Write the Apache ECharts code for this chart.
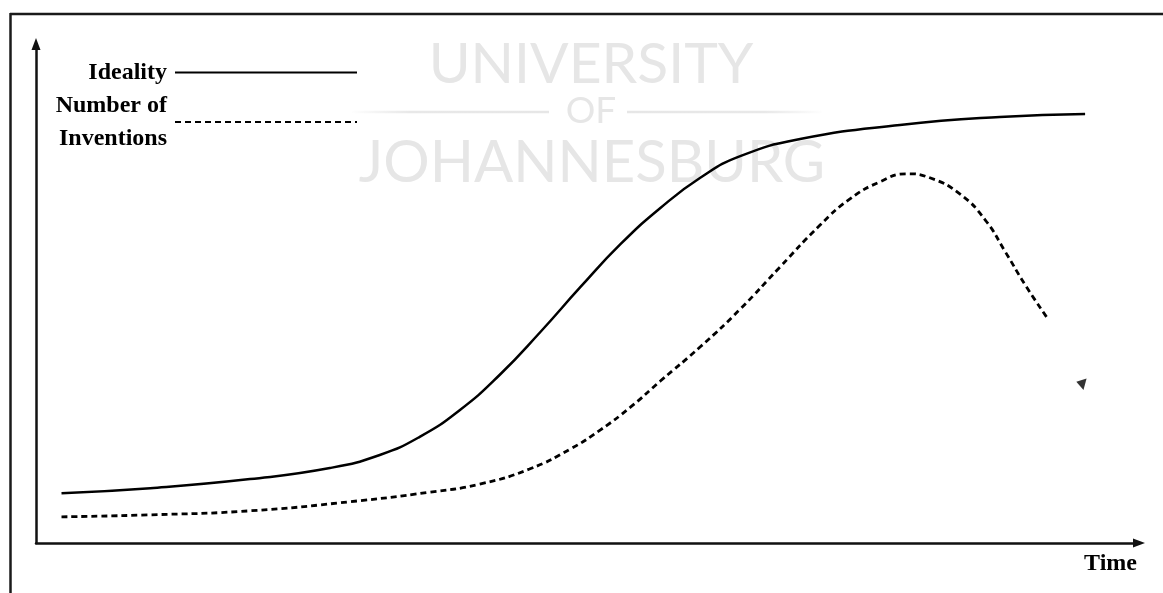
<!DOCTYPE html>
<html>
<head>
<meta charset="utf-8">
<script src="https://cdn.jsdelivr.net/npm/echarts@6/dist/echarts.min.js"></script>
<style>
  html, body { margin: 0; padding: 0; background: #ffffff; }
  #chart { width: 1163px; height: 593px; }
</style>
</head>
<body>
<div id="chart"></div>
<script>
// Series names (shown in the legend)
const seriesNames = ['Ideality', 'Number of\nInventions'];

// Ideality: slow start, steep rise, then levelling off
const idealityTime  = [2.3, 10.3, 19.3, 26.5, 31.0, 34.6, 38.2, 41.8, 45.5, 49.1, 52.7, 56.3, 59.9, 63.5, 68.9, 77.9, 86.9, 94.6];
const idealityValue = [9.9, 10.9, 12.7, 14.9, 17.5, 21.1, 26.4, 33.4, 42.0, 50.9, 59.4, 66.6, 72.6, 76.9, 80.3, 83.1, 84.7, 85.3];

// Number of inventions: rises later, peaks, then falls away
const inventionsTime  = [2.3, 10.3, 19.3, 28.3, 35.5, 40.0, 44.5, 48.2, 50.9, 53.6, 56.3, 59.9, 63.5, 67.1, 70.7, 73.4, 76.1, 78.5, 80.6, 83.3, 85.6, 87.4, 89.2, 91.2];
const inventionsValue = [5.2, 5.6, 6.4, 8.2, 10.1, 11.7, 14.7, 18.7, 22.5, 27.0, 32.2, 39.0, 46.5, 54.9, 63.2, 68.4, 71.8, 73.4, 72.6, 69.4, 64.2, 57.9, 51.3, 44.7];

// Stray arrowhead on the right-hand side
const markerTime  = [94.2];
const markerValue = [31.8];

const xAxisName = 'Time';
const watermarkLines = ['UNIVERSITY', 'OF', 'JOHANNESBURG'];

const zip = (xs, ys) => xs.map((x, i) => [x, ys[i]]);

const serif = '"Liberation Serif", "Times New Roman", serif';
const ink = '#000000';
const wmFont = 'Lato, "Open Sans", sans-serif';
const wmColor = '#e6e6e6';

const chart = echarts.init(document.getElementById('chart'), null, { renderer: 'canvas' });

const arrowAxisLine = {
  show: true,
  symbol: ['none', 'triangle'],
  symbolSize: [9, 12],
  lineStyle: { color: '#111111', width: 2.5 }
};

chart.setOption({
  animation: false,
  backgroundColor: '#ffffff',
  grid: { left: 36, right: 24, top: 44, bottom: 50 },
  xAxis: {
    type: 'value',
    min: 0,
    max: 99.46,
    name: xAxisName,
    nameLocation: 'end',
    nameGap: -2,
    nameTextStyle: {
      fontFamily: serif, fontWeight: 'bold', fontSize: 24, color: ink,
      align: 'right', verticalAlign: 'top', padding: [9, 0, 0, 0]
    },
    axisLine: arrowAxisLine,
    axisTick: { show: false },
    axisLabel: { show: false },
    splitLine: { show: false }
  },
  yAxis: {
    type: 'value',
    min: 0,
    max: 99.2,
    axisLine: arrowAxisLine,
    axisTick: { show: false },
    axisLabel: { show: false },
    splitLine: { show: false }
  },
  legend: {
    data: seriesNames,
    orient: 'vertical',
    right: 800,
    top: 51,
    align: 'right',
    itemWidth: 182,
    itemHeight: 4,
    itemGap: 0,
    selectedMode: false,
    itemStyle: { opacity: 0 },
    textStyle: {
      fontFamily: serif, fontWeight: 'bold', fontSize: 24, color: ink,
      lineHeight: 33, padding: [0, 3, 0, 0]
    }
  },
  graphic: [
    // outer frame (top and left edges)
    { type: 'line', z: 0, shape: { x1: 10, y1: 14, x2: 1163, y2: 14 }, style: { stroke: '#1a1a1a', lineWidth: 2.5 } },
    { type: 'line', z: 0, shape: { x1: 10.5, y1: 13, x2: 10.5, y2: 593 }, style: { stroke: '#1a1a1a', lineWidth: 2.5 } },
    // watermark
    { type: 'text', z: 0, x: 591, y: 65, style: { text: watermarkLines[0], font: '400 57px ' + wmFont, fill: wmColor, align: 'center', verticalAlign: 'middle' } },
    { type: 'text', z: 0, x: 591, y: 111.5, style: { text: watermarkLines[1], font: '400 37px ' + wmFont, fill: wmColor, align: 'center', verticalAlign: 'middle' } },
    {
      type: 'line', z: 0, shape: { x1: 352, y1: 112, x2: 549, y2: 112 },
      style: {
        lineWidth: 2.5,
        stroke: new echarts.graphic.LinearGradient(0, 0, 1, 0, [
          { offset: 0, color: 'rgba(230,230,230,0)' },
          { offset: 0.3, color: '#e8e8e8' },
          { offset: 1, color: wmColor }
        ])
      }
    },
    {
      type: 'line', z: 0, shape: { x1: 627, y1: 112, x2: 822, y2: 112 },
      style: {
        lineWidth: 2.5,
        stroke: new echarts.graphic.LinearGradient(0, 0, 1, 0, [
          { offset: 0, color: wmColor },
          { offset: 0.7, color: '#e8e8e8' },
          { offset: 1, color: 'rgba(230,230,230,0)' }
        ])
      }
    },
    { type: 'text', z: 0, x: 592, y: 163, style: { text: watermarkLines[2], font: '400 58px ' + wmFont, fill: wmColor, align: 'center', verticalAlign: 'middle' } }
  ],
  series: [
    {
      name: seriesNames[0],
      type: 'line',
      z: 3,
      smooth: 0.5,
      symbol: 'none',
      data: zip(idealityTime, idealityValue),
      lineStyle: { color: ink, width: 2.5, type: 'solid' },
      itemStyle: { color: ink }
    },
    {
      name: seriesNames[1],
      type: 'line',
      z: 3,
      smooth: 0.5,
      symbol: 'none',
      data: zip(inventionsTime, inventionsValue),
      lineStyle: { color: ink, width: 2.8, type: [6, 4] },
      itemStyle: { color: ink }
    },
    {
      name: 'arrowhead',
      type: 'scatter',
      z: 3,
      symbol: 'triangle',
      symbolSize: [12, 9],
      symbolRotate: 75,
      data: zip(markerTime, markerValue),
      itemStyle: { color: ink },
      silent: true
    }
  ]
});
</script>
</body>
</html>
